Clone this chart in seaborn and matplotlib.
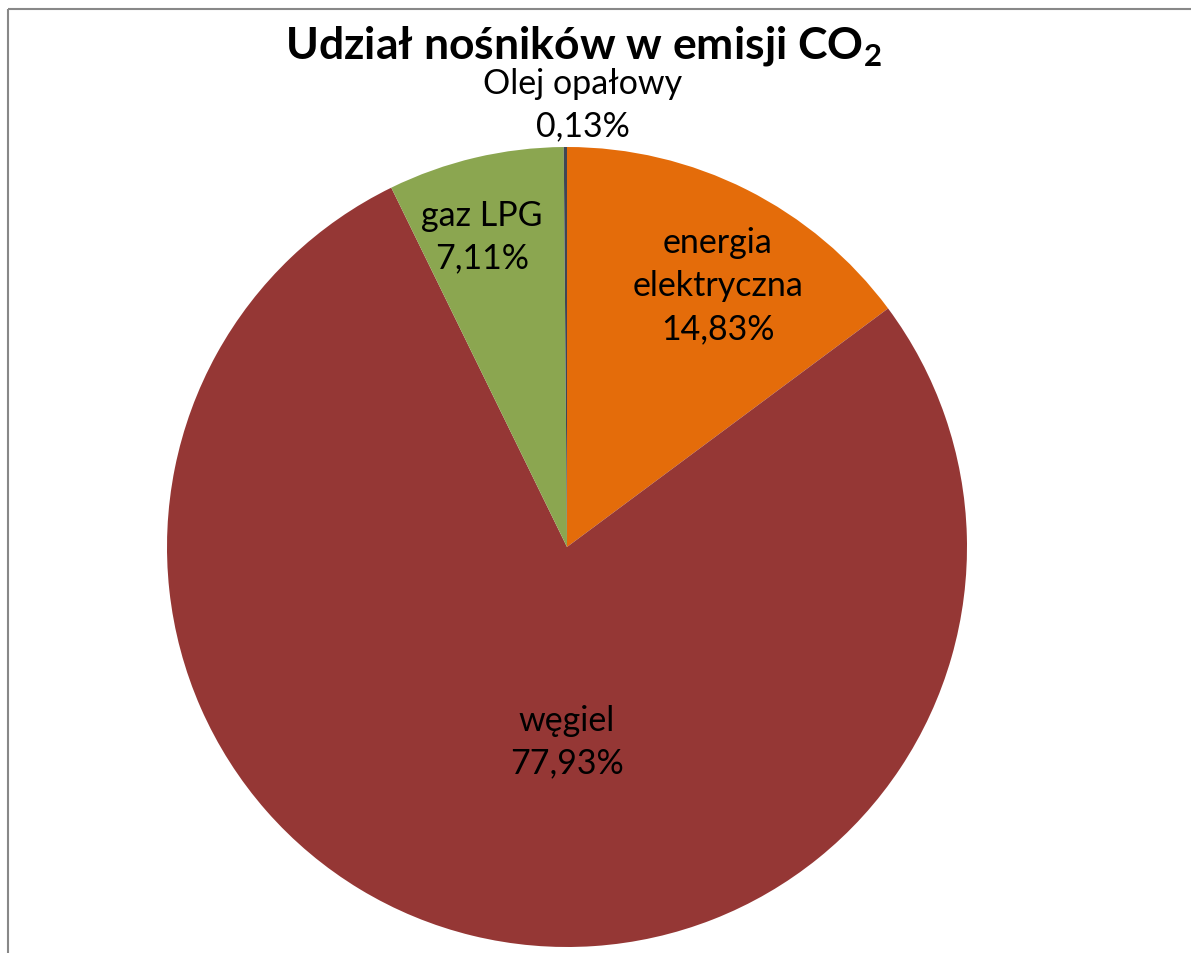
import matplotlib
matplotlib.use("Agg")
import matplotlib.pyplot as plt
import seaborn as sns

categories = ["energia\nelektryczna", "węgiel", "gaz LPG", "Olej opałowy"]
values = [14.83, 77.93, 7.11, 0.13]
value_labels = ["14,83%", "77,93%", "7,11%", "0,13%"]
colors = ["#E46C0A", "#953735", "#8BA650", "#3F4655"]
title = "Udział nośników w emisji CO$_\\mathregular{2}$"

sns.set_theme(style="white")
plt.rcParams['font.family'] = ['Lato', 'DejaVu Sans']

W, H = 1191, 954
fig = plt.figure(figsize=(W / 100, H / 100), dpi=100)
ax = fig.add_axes([0, 0, 1, 1])

cx, cy, r = 567, H - 548, 400
ax.pie(values, colors=colors, startangle=90, counterclock=False,
       center=(cx, cy), radius=r, frame=True,
       wedgeprops=dict(linewidth=0))
ax.set_xlim(0, W)
ax.set_ylim(0, H)
ax.axis("off")

# label positions (pixel coords from top)
label_pos = [(718, 286), (567, 742), (482, 237), (583, 105)]
for (x, y), cat, vl in zip(label_pos, categories, value_labels):
    ax.text(x, H - y, f"{cat}\n{vl}", ha="center", va="center",
            fontsize=24.5, color="black", linespacing=1.42)

ax.text(583, H - 46, title, ha="center", va="center", fontsize=32,
        fontweight="bold", color="black")

# border lines (chart frame)
ax.plot([8, 8], [0, H - 10], color="#888888", lw=1.5, solid_capstyle="butt")
ax.plot([8, W], [H - 10, H - 10], color="#888888", lw=1.5, solid_capstyle="butt")

fig.savefig("out.png", dpi=100)
